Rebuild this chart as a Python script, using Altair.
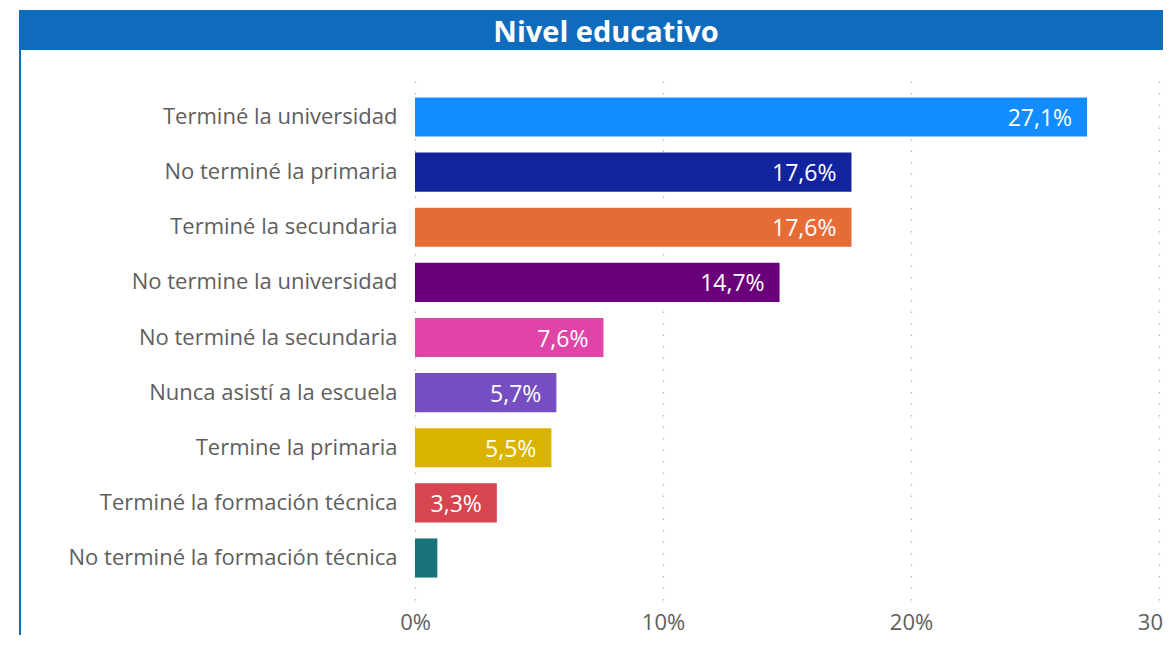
import altair as alt
import pandas as pd

categorias = [
    "Terminé la universidad",
    "No terminé la primaria",
    "Terminé la secundaria",
    "No termine la universidad",
    "No terminé la secundaria",
    "Nunca asistí a la escuela",
    "Termine la primaria",
    "Terminé la formación técnica",
    "No terminé la formación técnica",
]
valores = [27.1, 17.6, 17.6, 14.7, 7.6, 5.7, 5.5, 3.3, 0.9]
colores = ["#118DFF", "#12239E", "#E66C37", "#6B007B", "#E044A7",
           "#744EC2", "#D9B300", "#D64550", "#197278"]
ticks_x = [0, 10, 20, 30]
titulo = "Nivel educativo"

df = pd.DataFrame({"cat": categorias, "v": valores})

FONT = "Open Sans"
BLUE = "#0F6CBD"

y_enc = alt.Y("cat:N", sort=categorias, title=None,
              scale=alt.Scale(paddingInner=0.29, paddingOuter=0.407),
              axis=alt.Axis(domain=False, ticks=False, labelFontSize=22,
                            labelColor="#605E5C", labelPadding=18,
                            labelFont=FONT, grid=False, labelLimit=400))
x_enc = alt.X("v:Q", title=None,
              scale=alt.Scale(domain=[0, 30], nice=False),
              axis=alt.Axis(values=ticks_x, labelExpr="datum.value + '%'",
                            domain=False, ticks=False, labelFontSize=22,
                            labelColor="#605E5C", labelPadding=12, labelFont=FONT,
                            grid=True, gridDash=[1.5, 10], gridColor="#BEBEBE",
                            gridWidth=1.5, labelFlush=False))

bars = alt.Chart(df).mark_bar().encode(
    y=y_enc, x=x_enc,
    color=alt.Color("cat:N", scale=alt.Scale(domain=categorias, range=colores), legend=None),
)

labels = alt.Chart(df).transform_filter("datum.v >= 2").transform_calculate(
    lab="replace(format(datum.v, '.1f'), '.', ',') + '%'"
).mark_text(align="right", baseline="middle", dx=-15, dy=2, color="white",
            fontSize=23, font=FONT).encode(
    y=alt.Y("cat:N", sort=categorias),
    x="v:Q",
    text="lab:N",
)

deco = alt.Data(values=[{}])
title_bar = alt.Chart(deco).mark_rect(color=BLUE).encode(
    x=alt.value(-396), x2=alt.value(820), y=alt.value(-65), y2=alt.value(-25))
left_border = alt.Chart(deco).mark_rule(color=BLUE, strokeWidth=2).encode(
    x=alt.value(-395), y=alt.value(-25), y2=alt.value(600))
title_text = alt.Chart(deco).mark_text(
    text=titulo, color="white", fontSize=29, fontWeight="bold", font=FONT,
    align="center", baseline="alphabetic").encode(
    x=alt.value(191), y=alt.value(-33))

chart = alt.layer(title_bar, left_border, bars, labels, title_text).properties(
    width=744, height=525,
    autosize=alt.AutoSizeParams(type="none"),
    padding={"left": 407, "top": 67, "right": 4, "bottom": 35},
).configure_view(stroke=None)

chart.save("out.html", embed_options={"renderer": "svg", "actions": False})
